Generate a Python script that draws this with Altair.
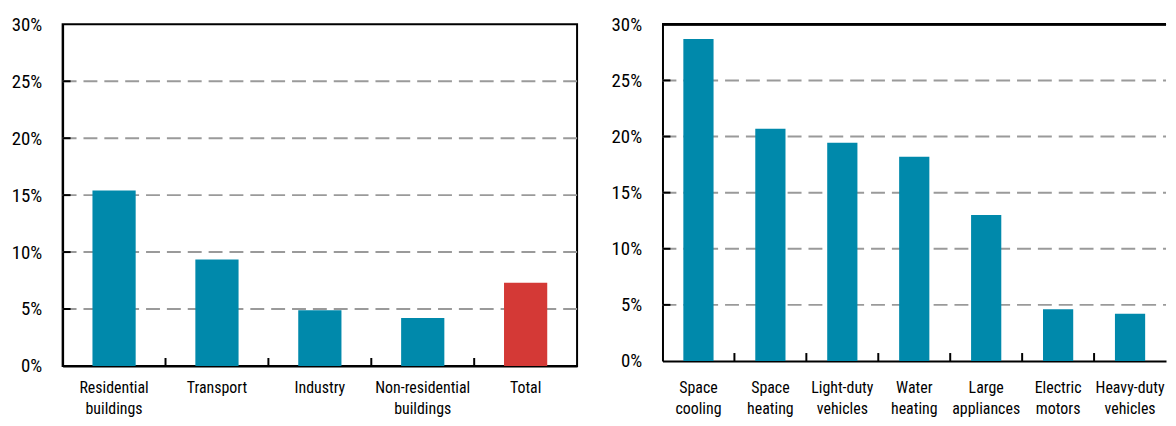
import altair as alt
import pandas as pd

left_cats = ["Residential buildings", "Transport", "Industry", "Non-residential buildings", "Total"]
left_vals = [15.4, 9.35, 4.9, 4.2, 7.3]
left_colors = ["#0089AB", "#0089AB", "#0089AB", "#0089AB", "#D43936"]

right_cats = ["Space cooling", "Space heating", "Light-duty vehicles", "Water heating",
              "Large appliances", "Electric motors", "Heavy-duty vehicles"]
right_vals = [28.7, 20.7, 19.45, 18.2, 13.0, 4.6, 4.2]
right_colors = ["#0089AB"] * 7

grid_vals = [5, 10, 15, 20, 25]
tick_vals = [0, 5, 10, 15, 20, 25, 30]

FONT = "Roboto Condensed"
FS = 16


def panel(cats, vals, colors, W, H, label_pad, line_h, frame):
    df = pd.DataFrame({"cat": cats, "val": vals, "col": colors, "idx": list(range(len(cats)))})
    gdf = pd.DataFrame({"v": grid_vals})
    xs = alt.Scale(domain=cats, paddingInner=0, paddingOuter=0)
    ys = alt.Scale(domain=[0, 30], nice=False)
    x_axis = alt.Axis(title=None, labelAngle=0, ticks=False, labelExpr="split(datum.label, ' ')",
                      labelLineHeight=line_h, labelPadding=label_pad, labelBaseline="top",
                      domainColor="black", domainWidth=2, labelFontSize=FS, labelColor="black",
                      labelFont=FONT)
    y_axis = alt.Axis(title=None, values=tick_vals, ticks=False, grid=False,
                      labelExpr="datum.value + '%'", labelPadding=21,
                      domainColor="black", domainWidth=2, labelFontSize=19, labelColor="black",
                      labelFont=FONT)
    grid = alt.Chart(gdf).mark_rule(color="#9a9a9a", strokeWidth=2, strokeDash=[14, 7]).encode(
        x=alt.value(0), x2=alt.value(W), y=alt.Y("v:Q", scale=ys, axis=y_axis))
    yt = alt.Chart(gdf).mark_rule(color="black", strokeWidth=2).encode(
        x=alt.value(0), x2=alt.value(8), y=alt.Y("v:Q", scale=ys))
    bars = alt.Chart(df).mark_bar(width=alt.RelativeBandSize(0.42)).encode(
        x=alt.X("cat:N", scale=xs, sort=None, axis=x_axis),
        y=alt.Y("val:Q", scale=ys),
        color=alt.Color("col:N", scale=None, legend=None),
    )
    xt = alt.Chart(df).transform_filter("datum.idx > 0").mark_rule(color="black", strokeWidth=2).encode(
        x=alt.X("cat:N", scale=xs, sort=None, bandPosition=0),
        y=alt.value(H - 8), y2=alt.value(H))
    layers = [grid, yt, bars, xt]
    if frame:
        return alt.layer(*layers).properties(
            width=W, height=H, view=alt.ViewBackground(stroke="black", strokeWidth=2))
    top = alt.Chart(df).mark_rule(color="black", strokeWidth=2).encode(
        x=alt.value(0), x2=alt.value(W), y=alt.value(0))
    return alt.layer(*layers, top).properties(
        width=W, height=H, view=alt.ViewBackground(stroke="transparent"))


left = panel(left_cats, left_vals, left_colors, 518, 344, 14, 21, True)
right = panel(right_cats, right_vals, right_colors, 507, 339, 19, 21, False)

chart = alt.hconcat(left, right, spacing=31).properties(
    padding={"left": 2, "top": 5, "right": 0, "bottom": 0}
).configure(font=FONT)

chart.save("out.html", embed_options={"renderer": "svg", "actions": False})
